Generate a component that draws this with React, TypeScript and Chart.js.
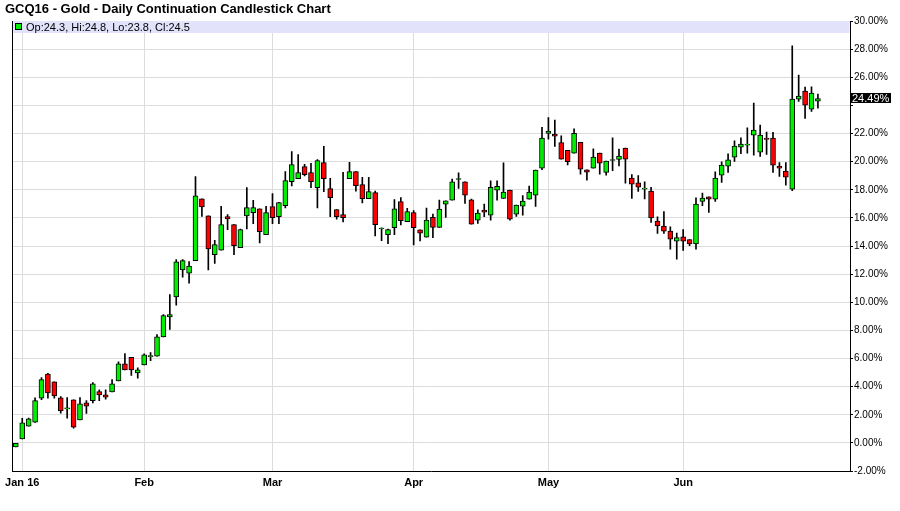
import React, { useEffect, useRef } from 'react';
import { Chart, registerables } from 'chart.js';

Chart.register(...registerables);

// Daily candles, Dec 31 2015 .. Jun 30 2016 (percent change vs. first close)
const opens = [
  -0.28, 0.28, 1.18, 1.47, 3.18, 4.9, 4.34, 3.2, 2.49, 3.06,
  1.64, 2.84, 3.01, 3.65, 3.41, 3.63, 4.41, 5.62, 6.09, 4.98,
  5.55, 6.2, 6.16, 7.54, 8.96, 10.38, 12.3, 12.06, 12.96, 17.35,
  16.14, 13.39, 13.7, 16.09, 15.52, 13.89, 16.14, 16.37, 16.64, 14.81,
  16.8, 16.09, 16.87, 18.58, 18.79, 19.64, 19.22, 18.15, 19.93, 18.08,
  16.59, 16.23, 18.79, 19.29, 18.36, 17.37, 17.8, 15.28, 14.81, 15.31,
  17.16, 15.73, 16.37, 15.15, 14.63, 16.03, 15.32, 16.98, 17.26, 18.8,
  18.56, 17.28, 15.84, 16.55, 16.19, 17.97, 17.38, 17.97, 16.27, 16.83,
  17.33, 17.62, 19.54, 22.0, 21.95, 21.36, 20.81, 20.6, 21.38, 19.42,
  19.54, 20.6, 19.23, 20.15, 20.15, 20.96, 18.83, 18.5, 18.12, 17.9,
  15.77, 15.42, 15.06, 14.35, 14.66, 14.45, 14.14, 17.17, 17.5, 17.33,
  19.04, 19.68, 20.32, 21.03, 21.25, 21.89, 20.68, 21.65, 21.67, 19.68,
  19.33, 18.05, 24.45, 25.01, 23.73, 24.3,
];
const highs = [
  0.0, 1.75, 1.76, 3.2, 4.64, 4.95, 4.34, 3.29, 3.22, 3.06,
  3.22, 3.0, 4.29, 3.77, 3.77, 4.5, 5.76, 6.35, 6.09, 5.33,
  6.33, 6.42, 7.7, 9.12, 10.55, 13.03, 13.03, 12.89, 18.93, 17.35,
  16.14, 14.4, 16.82, 16.23, 15.52, 15.2, 18.15, 17.25, 16.64, 16.82,
  17.73, 17.1, 19.29, 20.71, 20.5, 19.81, 19.88, 20.14, 21.09, 18.82,
  16.59, 19.24, 19.95, 19.29, 18.89, 18.89, 17.9, 15.3, 15.2, 17.3,
  17.44, 16.68, 16.52, 15.15, 16.69, 16.27, 17.26, 17.21, 18.75, 19.2,
  18.56, 17.33, 16.57, 16.98, 18.64, 18.64, 19.91, 17.97, 16.91, 17.59,
  18.26, 19.39, 22.43, 23.14, 22.95, 21.83, 20.81, 22.33, 21.38, 19.42,
  20.91, 20.6, 20.03, 21.69, 20.89, 20.96, 19.07, 19.0, 18.57, 18.17,
  16.08, 16.44, 15.37, 14.92, 15.16, 14.45, 17.43, 17.76, 17.5, 19.28,
  19.99, 20.56, 21.48, 21.7, 22.41, 24.16, 22.6, 22.1, 22.08, 19.94,
  19.94, 28.24, 26.15, 25.3, 25.32, 24.8,
];
const lows = [
  -0.28, 0.28, 1.18, 1.45, 3.08, 3.18, 3.18, 2.11, 1.75, 1.04,
  1.64, 2.1, 2.84, 3.01, 3.1, 3.63, 4.41, 5.19, 4.79, 4.6,
  5.55, 5.85, 6.16, 7.54, 8.06, 9.79, 11.78, 11.35, 12.96, 16.11,
  12.3, 12.77, 13.7, 15.17, 13.39, 13.89, 15.21, 15.59, 14.22, 14.81,
  15.59, 15.59, 16.7, 18.27, 18.79, 18.98, 18.15, 16.7, 17.87, 16.09,
  15.9, 15.71, 18.79, 17.9, 17.06, 17.37, 14.72, 14.38, 14.17, 14.81,
  15.5, 15.73, 14.08, 14.37, 14.63, 14.6, 15.32, 16.03, 17.26, 18.09,
  17.02, 15.55, 15.6, 16.08, 15.84, 17.26, 17.38, 15.84, 16.1, 16.2,
  17.33, 16.81, 19.42, 21.6, 21.08, 20.18, 19.77, 20.6, 19.11, 18.68,
  19.54, 19.11, 19.04, 19.35, 19.7, 18.47, 17.38, 17.88, 17.34, 15.68,
  14.9, 14.9, 13.78, 13.07, 13.69, 14.02, 13.78, 16.86, 16.39, 17.17,
  18.52, 19.23, 20.01, 20.56, 20.6, 20.46, 20.37, 20.51, 19.23, 18.95,
  18.33, 17.93, 24.28, 23.07, 23.57, 23.8,
];
const closes = [
  0.0, 1.42, 1.71, 3.01, 4.5, 3.55, 3.34, 2.27, 2.49, 1.11,
  2.77, 2.61, 4.19, 3.41, 3.25, 4.19, 5.62, 5.19, 5.19, 5.19,
  6.26, 6.2, 7.54, 9.05, 9.12, 12.87, 12.96, 12.58, 17.56, 16.78,
  13.79, 14.1, 15.52, 15.92, 14.03, 15.17, 16.73, 16.73, 15.02, 16.37,
  16.02, 17.09, 18.65, 19.79, 19.22, 19.08, 18.58, 20.07, 18.79, 17.44,
  16.09, 16.02, 19.29, 18.29, 17.37, 17.87, 15.52, 15.28, 15.17, 16.64,
  15.81, 16.45, 15.31, 14.91, 15.84, 15.32, 16.62, 17.21, 18.56, 18.8,
  17.62, 15.55, 16.34, 16.41, 18.18, 18.25, 17.83, 15.91, 16.91, 17.19,
  17.83, 19.39, 21.67, 22.17, 21.81, 20.18, 19.99, 22.02, 19.46, 19.25,
  20.32, 19.89, 20.03, 20.15, 20.39, 20.18, 18.4, 18.19, 18.12, 15.99,
  15.42, 15.06, 14.49, 14.59, 14.35, 14.14, 16.98, 17.41, 17.33, 18.83,
  19.75, 20.13, 21.1, 21.25, 21.25, 22.24, 21.89, 21.58, 19.75, 19.54,
  18.9, 24.45, 24.66, 24.02, 24.87, 24.49,
];

// Month start positions (trading-day index) and their labels
const monthTickIndex = [1, 20, 40, 62, 83, 104];
const monthTickLabels = ['Jan 16', 'Feb', 'Mar', 'Apr', 'May', 'Jun'];

const titleText = 'GCQ16 - Gold - Daily Continuation Candlestick Chart';

const FONT = 'Arial, "Liberation Sans", Helvetica, sans-serif';
const UP = '#00ee00';
const DOWN = '#ff0000';

export default function App() {
  const ref = useRef<HTMLCanvasElement>(null);

  useEffect(() => {
    const n = closes.length;
    const bodies = closes.map((c, i) => ({ x: i, y: [opens[i], c] }));
    const wicks = closes.map((_, i) => ({ x: i, y: [lows[i], highs[i]] }));
    const bodyColors = closes.map((c, i) => (c >= opens[i] ? UP : DOWN));
    const last = n - 1;
    const legendText =
      'Op:' + opens[last].toFixed(1) +
      ', Hi:' + highs[last].toFixed(1) +
      ', Lo:' + lows[last].toFixed(1) +
      ', Cl:' + closes[last].toFixed(1);
    const priceLabel = closes[last].toFixed(2) + '%';

    const overlay = {
      id: 'overlay',
      afterDraw(chart: any) {
        const { ctx, chartArea: a, scales } = chart;
        ctx.save();
        // left frame line
        ctx.strokeStyle = '#000';
        ctx.lineWidth = 1;
        const lx = Math.round(a.left) + 0.5;
        ctx.beginPath();
        ctx.moveTo(lx, a.top);
        ctx.lineTo(lx, a.bottom);
        ctx.stroke();
        // legend band
        ctx.fillStyle = '#e2e2fb';
        ctx.fillRect(a.left + 1, a.top, a.right - a.left - 1.5, 12);
        ctx.fillStyle = UP;
        ctx.fillRect(16, 24, 5, 5);
        ctx.strokeStyle = '#000';
        ctx.strokeRect(15.5, 23.5, 6, 6);
        ctx.fillStyle = '#000';
        ctx.font = '11px ' + FONT;
        ctx.textBaseline = 'alphabetic';
        ctx.textAlign = 'left';
        ctx.fillText(legendText, 26, 31);
        // title
        ctx.font = 'bold 13px ' + FONT;
        ctx.fillText(titleText, 5, 13);
        // last price label
        const py = scales.y.getPixelForValue(closes[last]);
        ctx.fillStyle = '#000';
        ctx.fillRect(a.right + 1, Math.round(py) - 5, 40, 10);
        ctx.fillStyle = '#fff';
        ctx.font = '11px ' + FONT;
        ctx.textBaseline = 'middle';
        ctx.fillText(priceLabel, a.right + 2, Math.round(py) + 0.5);
        ctx.restore();
      },
    };

    const chart = new Chart(ref.current as HTMLCanvasElement, {
      type: 'bar',
      data: {
        datasets: [
          {
            label: 'Body',
            data: bodies as any,
            backgroundColor: bodyColors,
            borderColor: '#000',
            borderWidth: 1,
            borderSkipped: false,
            barThickness: 5,
            minBarLength: 1,
            grouped: false,
            order: 0,
          } as any,
          {
            label: 'Wick',
            data: wicks as any,
            backgroundColor: '#000',
            borderWidth: 0,
            barThickness: 1,
            grouped: false,
            order: 1,
          } as any,
        ],
      },
      options: {
        animation: false,
        responsive: true,
        maintainAspectRatio: false,
        layout: { padding: { left: 10, top: 21, right: 0, bottom: 0 } },
        plugins: {
          legend: { display: false },
          tooltip: { enabled: false },
          title: { display: false },
        },
        scales: {
          x: {
            type: 'linear',
            min: -0.56,
            max: 130,
            offset: false,
            grid: { color: '#dcdcdc', drawTicks: false, offset: false },
            border: { color: '#000' },
            afterBuildTicks: (s: any) => {
              s.ticks = monthTickIndex.map((v) => ({ value: v }));
            },
            afterFit: (s: any) => {
              s.height = 40;
            },
            ticks: {
              autoSkip: false,
              maxRotation: 0,
              padding: 5,
              color: '#000',
              font: { family: FONT, size: 11, weight: 'bold' },
              callback: (v: any) => {
                const k = monthTickIndex.indexOf(Number(v));
                return k >= 0 ? monthTickLabels[k] : '';
              },
            },
          } as any,
          y: {
            position: 'right',
            min: -2,
            max: 30,
            grid: { color: '#dcdcdc', tickColor: '#000', tickLength: 3 },
            border: { color: '#000' },
            afterFit: (s: any) => {
              s.width = 50;
            },
            ticks: {
              stepSize: 2,
              padding: 1,
              color: '#000',
              font: { family: FONT, size: 10 },
              callback: (v: any) => (Number(v) === 24 ? '' : Number(v).toFixed(2) + '%'),
            },
          } as any,
        },
      },
      plugins: [overlay],
    });
    return () => chart.destroy();
  }, []);

  return (
    <div style={{ position: 'fixed', left: 0, top: 0, width: 900, height: 511, background: '#fff' }}>
      <canvas ref={ref} />
    </div>
  );
}
